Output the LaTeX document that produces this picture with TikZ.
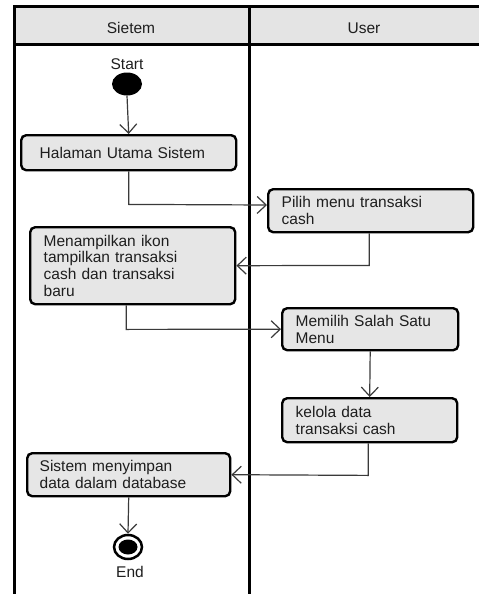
\documentclass[tikz,border=0pt]{standalone}
\usepackage{fontspec}
\setmainfont{Liberation Sans}
\usetikzlibrary{arrows.meta,shapes.geometric}
\definecolor{boxfill}{HTML}{E6E6E6}
\definecolor{hdrfill}{HTML}{E4E4E4}
\definecolor{linec}{HTML}{3A3A3A}
\definecolor{txt}{HTML}{1E1E1E}
\tikzset{
  actbox/.style={draw=black, line width=2.4pt, fill=boxfill, rounded corners=5pt,
    anchor=north west, align=left, inner ysep=0pt, text=txt,
    font=\fontsize{15.5}{16.6}\selectfont},
  flow/.style={draw=linec, line width=1.2pt,
    -{Straight Barb[length=9pt,width=17pt,line width=1.2pt]}},
  lane/.style={draw=black, line width=3pt},
  lbl/.style={text=txt, font=\fontsize{15.5}{16.6}\selectfont, inner sep=0pt}
}
\begin{document}
\begin{tikzpicture}[x=1pt,y=-1pt]
\useasboundingbox (0,0) rectangle (479,594);
% header
\fill[hdrfill] (14,7) rectangle (479,45);
\draw[lane] (14,7) -- (479,7);
\draw[lane] (14,45) -- (479,45);
\draw[lane] (14,5.5) -- (14,594);
\draw[lane] (249,5.5) -- (249,594);
\node[lbl] (hs) at (131,28) {Sietem};
\node[lbl] (hu) at (364,28) {User};
% start
\node[lbl] (startlbl) at (127,64) {Start};
\node[ellipse, fill=black, minimum width=30pt, minimum height=23pt, inner sep=0pt] (start) at (127,84) {};
% activities
\node[actbox, minimum width=215pt, minimum height=35pt, text width=178pt, inner xsep=18pt] (hal) at (20,134) {Halaman Utama Sistem};
\node[actbox, minimum width=205pt, minimum height=43pt, text width=178pt, inner xsep=13pt] (pilih) at (267,188) {Pilih menu transaksi\\cash};
\node[actbox, minimum width=205pt, minimum height=77pt, text width=178pt, inner xsep=13pt] (menu) at (29,226) {Menampilkan ikon\\tampilkan transaksi\\cash dan transaksi\\baru};
\node[actbox, minimum width=176pt, minimum height=42pt, text width=149pt, inner xsep=13pt] (memilih) at (281,307) {Memilih Salah Satu\\Menu};
\node[actbox, minimum width=175pt, minimum height=44pt, text width=148pt, inner xsep=13pt] (kelola) at (281,397) {kelola data\\transaksi cash};
\node[actbox, minimum width=203pt, minimum height=43pt, text width=178pt, inner xsep=12pt] (simpan) at (26,452) {Sistem menyimpan\\data dalam database};
% end
\node[ellipse, draw=black, line width=2.5pt, fill=white, minimum width=28pt, minimum height=24pt, inner sep=0pt] (end) at (128,547) {};
\node[ellipse, fill=black, minimum width=19pt, minimum height=15pt, inner sep=0pt] (endin) at (end.center) {};
\node[lbl] (endlbl) at (130,572) {End};
% connectors
\draw[flow] (start.south) -- (hal.north);
\draw[flow] (hal.south) -- ++(0,33) -- ([yshift=-17pt]pilih.north west);
\draw[flow] ([xshift=-1.5pt]pilih.south) -- ++(0,32) -- (menu.east);
\draw[flow] ([xshift=-6.5pt]menu.south) -- ++(0,24) -- (memilih.west);
\draw[flow] (memilih.south) -- (kelola.north);
\draw[flow] ([xshift=-1.5pt]kelola.south) -- ++(0,32) -- (simpan.east);
\draw[flow] (simpan.south) -- (end.north);
\end{tikzpicture}
\end{document}
